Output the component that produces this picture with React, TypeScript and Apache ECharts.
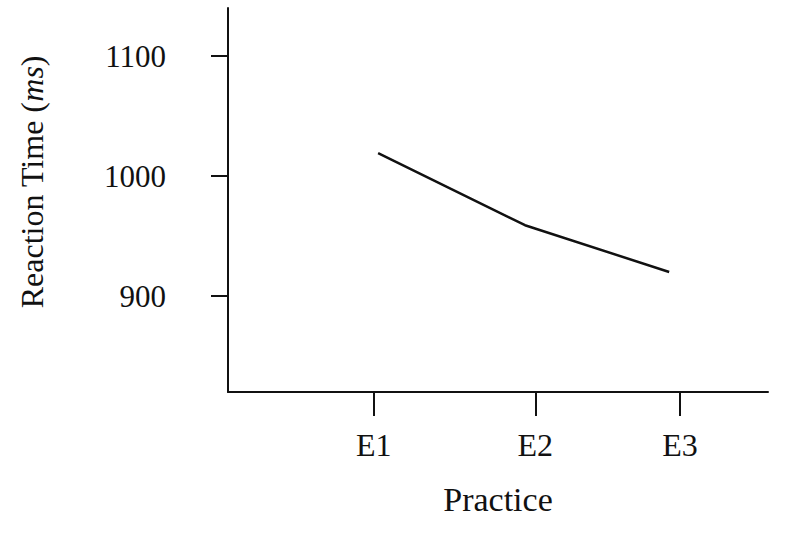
import React, { useEffect, useRef } from "react";
import * as echarts from "echarts";

const tickLabels = ["E1", "E2", "E3"];
const tickPositions = [2.7, 5.69, 8.37];
const lineX = [2.78, 5.5, 8.17];
const reactionTimes = [1019, 959, 920];
const yTicks = [900, 1000, 1100];

export default function App() {
  const ref = useRef<HTMLDivElement>(null);
  useEffect(() => {
    if (!ref.current) return;
    const chart = echarts.init(ref.current, null, { renderer: "svg" });
    const font = "Liberation Serif";
    chart.setOption({
      animation: false,
      backgroundColor: "#ffffff",
      grid: { left: 228, right: 21, top: 8, bottom: 148 },
      xAxis: {
        type: "value",
        min: 0,
        max: 10,
        name: "Practice",
        nameLocation: "middle",
        nameGap: 90,
        nameTextStyle: { fontFamily: font, fontSize: 34, color: "#111" },
        axisLine: { show: true, lineStyle: { color: "#111", width: 2 } },
        axisTick: {
          show: true,
          length: 24,
          customValues: tickPositions,
          lineStyle: { color: "#111", width: 2 },
        },
        axisLabel: {
          customValues: tickPositions,
          margin: 37,
          fontFamily: font,
          fontSize: 32,
          color: "#111",
          formatter: (v: number) => {
            const i = tickPositions.indexOf(v);
            return i >= 0 ? tickLabels[i] : "";
          },
        },
        splitLine: { show: false },
      },
      yAxis: {
        type: "value",
        min: 820,
        max: 1140,
        name: "{n|Reaction Time (}{i|ms}{n|)}",
        nameLocation: "middle",
        nameRotate: 90,
        nameGap: 180,
        nameTextStyle: {
          padding: [0, 0, 0, 36],
          rich: {
            n: { fontFamily: font, fontSize: 32, color: "#111" },
            i: { fontFamily: font, fontSize: 32, fontStyle: "italic", color: "#111" },
          },
        },
        axisLine: { show: true, lineStyle: { color: "#111", width: 2 } },
        axisTick: {
          show: true,
          length: 17,
          customValues: yTicks,
          lineStyle: { color: "#111", width: 2 },
        },
        axisLabel: {
          customValues: yTicks,
          margin: 62,
          fontFamily: font,
          fontSize: 31,
          color: "#111",
          formatter: (v: number) => String(v),
        },
        splitLine: { show: false },
      },
      series: [
        {
          type: "line",
          data: lineX.map((x, i) => [x, reactionTimes[i]]),
          showSymbol: false,
          symbol: "none",
          lineStyle: { color: "#111", width: 2.5 },
        },
      ],
    });
    return () => chart.dispose();
  }, []);
  return (
    <div
      ref={ref}
      style={{ position: "fixed", left: 0, top: 0, width: 789, height: 540 }}
    />
  );
}
